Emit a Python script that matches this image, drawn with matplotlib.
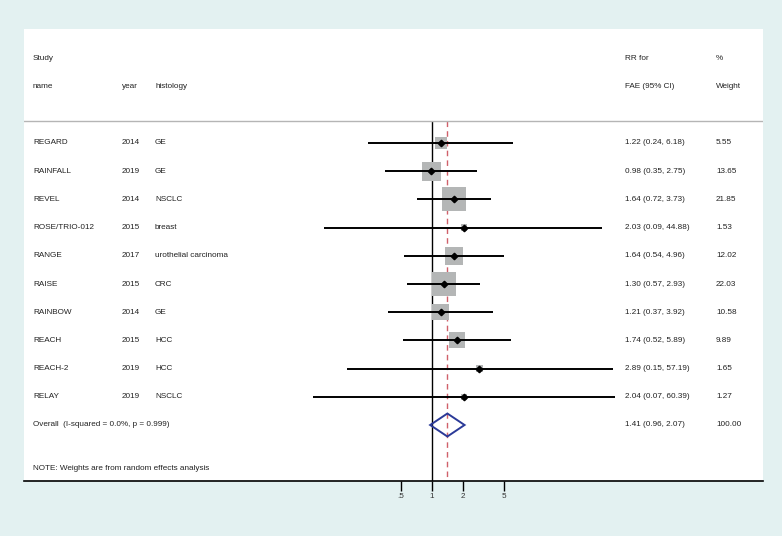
import matplotlib
matplotlib.use("Agg")
import matplotlib.pyplot as plt
from matplotlib.patches import Polygon
from matplotlib.ticker import NullLocator
import numpy as np

# ---------------- data ----------------
studies = ["REGARD", "RAINFALL", "REVEL", "ROSE/TRIO-012", "RANGE", "RAISE",
           "RAINBOW", "REACH", "REACH-2", "RELAY"]
years = ["2014", "2019", "2014", "2015", "2017", "2015", "2014", "2015", "2019", "2019"]
histology = ["GE", "GE", "NSCLC", "breast", "urothelial carcinoma", "CRC",
             "GE", "HCC", "HCC", "NSCLC"]
rr = [1.22, 0.98, 1.64, 2.03, 1.64, 1.30, 1.21, 1.74, 2.89, 2.04]
lo = [0.24, 0.35, 0.72, 0.09, 0.54, 0.57, 0.37, 0.52, 0.15, 0.07]
hi = [6.18, 2.75, 3.73, 44.88, 4.96, 2.93, 3.92, 5.89, 57.19, 60.39]
weights = [5.55, 13.65, 21.85, 1.53, 12.02, 22.03, 10.58, 9.89, 1.65, 1.27]
overall_rr, overall_lo, overall_hi = 1.41, 0.96, 2.07
overall_weight = 100.00
overall_label = "Overall  (I-squared = 0.0%, p = 0.999)"
note = "NOTE: Weights are from random effects analysis"
tick_vals = [0.5, 1, 2, 5]
tick_labels = [".5", "1", "2", "5"]

# ---------------- layout ----------------
W, H = 782, 536
panel_l, panel_r, panel_t, panel_b = 24, 763, 29, 481
x_one_px, px_per_decade = 432, 103
row0_px, pitch = 143, 28.2

def row_of(px):
    return (px - row0_px) / pitch

bg = "#e3f1f1"
txt_color = "#222222"
fs = 5.9
plt.rcParams["font.family"] = ["Liberation Sans", "DejaVu Sans"]

fig = plt.figure(figsize=(W / 100, H / 100), dpi=100, facecolor=bg)
ax = fig.add_axes([panel_l / W, 1 - panel_b / H, (panel_r - panel_l) / W,
                   (panel_b - panel_t) / H])
ax.set_facecolor("white")
ax.set_xscale("log")
ax.set_xlim(10 ** ((panel_l - x_one_px) / px_per_decade),
            10 ** ((panel_r - x_one_px) / px_per_decade))
ax.set_ylim(row_of(panel_b), row_of(panel_t))

for s in ["top", "left", "right"]:
    ax.spines[s].set_visible(False)
ax.spines["bottom"].set_color("black")
ax.spines["bottom"].set_linewidth(1.2)
ax.set_yticks([])
ax.set_xticks(tick_vals)
ax.set_xticklabels(tick_labels)
ax.xaxis.set_minor_locator(NullLocator())
ax.tick_params(axis="x", length=7, width=1, pad=2, labelsize=fs,
               colors="black", labelcolor="#333333")

trans = ax.get_yaxis_transform()

def colx(px):
    return (px - panel_l) / (panel_r - panel_l)

header_y = row_of(121)
bottom_y = row_of(panel_b)

# header
ax.text(colx(33), row_of(58), "Study", transform=trans, fontsize=fs, va="center", color=txt_color)
ax.text(colx(33), row_of(87), "name", transform=trans, fontsize=fs, va="center", color=txt_color)
ax.text(colx(122), row_of(87), "year", transform=trans, fontsize=fs, va="center", color=txt_color)
ax.text(colx(155), row_of(87), "histology", transform=trans, fontsize=fs, va="center", color=txt_color)
ax.text(colx(625), row_of(58), "RR for", transform=trans, fontsize=fs, va="center", color=txt_color)
ax.text(colx(625), row_of(87), "FAE (95% CI)", transform=trans, fontsize=fs, va="center", color=txt_color)
ax.text(colx(716), row_of(58), "%", transform=trans, fontsize=fs, va="center", color=txt_color)
ax.text(colx(716), row_of(87), "Weight", transform=trans, fontsize=fs, va="center", color=txt_color)
ax.axhline(header_y, color="#b5b5b5", lw=1.0)

# reference lines
ax.vlines(1, header_y, bottom_y, color="black", lw=1.0, zorder=1)
ax.vlines(overall_rr, header_y, bottom_y, color="#d0606a", lw=1.0,
          linestyles=(0, (4, 3)), zorder=1)

ys = np.arange(len(studies))
# weight boxes (area proportional to weight)
ax.scatter(rr, ys, marker="s", s=13.5 * np.array(weights), color="#b4b6b6",
           edgecolors="none", zorder=2)
# CIs
ax.hlines(ys, lo, hi, color="black", lw=1.4, zorder=3)
ax.plot(rr, ys, linestyle="none", marker="D", markersize=3.3, color="black", zorder=4)

for i in range(len(studies)):
    ax.text(colx(33), ys[i], studies[i], transform=trans, fontsize=fs, va="center", color=txt_color)
    ax.text(colx(122), ys[i], years[i], transform=trans, fontsize=fs, va="center", color=txt_color)
    ax.text(colx(155), ys[i], histology[i], transform=trans, fontsize=fs, va="center", color=txt_color)
    ax.text(colx(625), ys[i], f"{rr[i]:.2f} ({lo[i]:.2f}, {hi[i]:.2f})", transform=trans,
            fontsize=fs, va="center", color=txt_color)
    ax.text(colx(716), ys[i], f"{weights[i]:.2f}", transform=trans, fontsize=fs,
            va="center", color=txt_color)

# overall diamond
oy = len(studies)
h = 11.5 / pitch
diamond = Polygon([(overall_lo, oy), (overall_rr, oy - h), (overall_hi, oy), (overall_rr, oy + h)],
                  closed=True, fill=False, edgecolor="#2b3a98", lw=1.4, zorder=5)
ax.add_patch(diamond)
ax.text(colx(33), oy, overall_label, transform=trans, fontsize=fs, va="center", color=txt_color)
ax.text(colx(625), oy, f"{overall_rr:.2f} ({overall_lo:.2f}, {overall_hi:.2f})", transform=trans,
        fontsize=fs, va="center", color=txt_color)
ax.text(colx(716), oy, f"{overall_weight:.2f}", transform=trans, fontsize=fs, va="center", color=txt_color)

ax.text(colx(33), row_of(468), note, transform=trans, fontsize=fs, va="center", color=txt_color)

fig.savefig("out.png", dpi=100, facecolor=bg)
